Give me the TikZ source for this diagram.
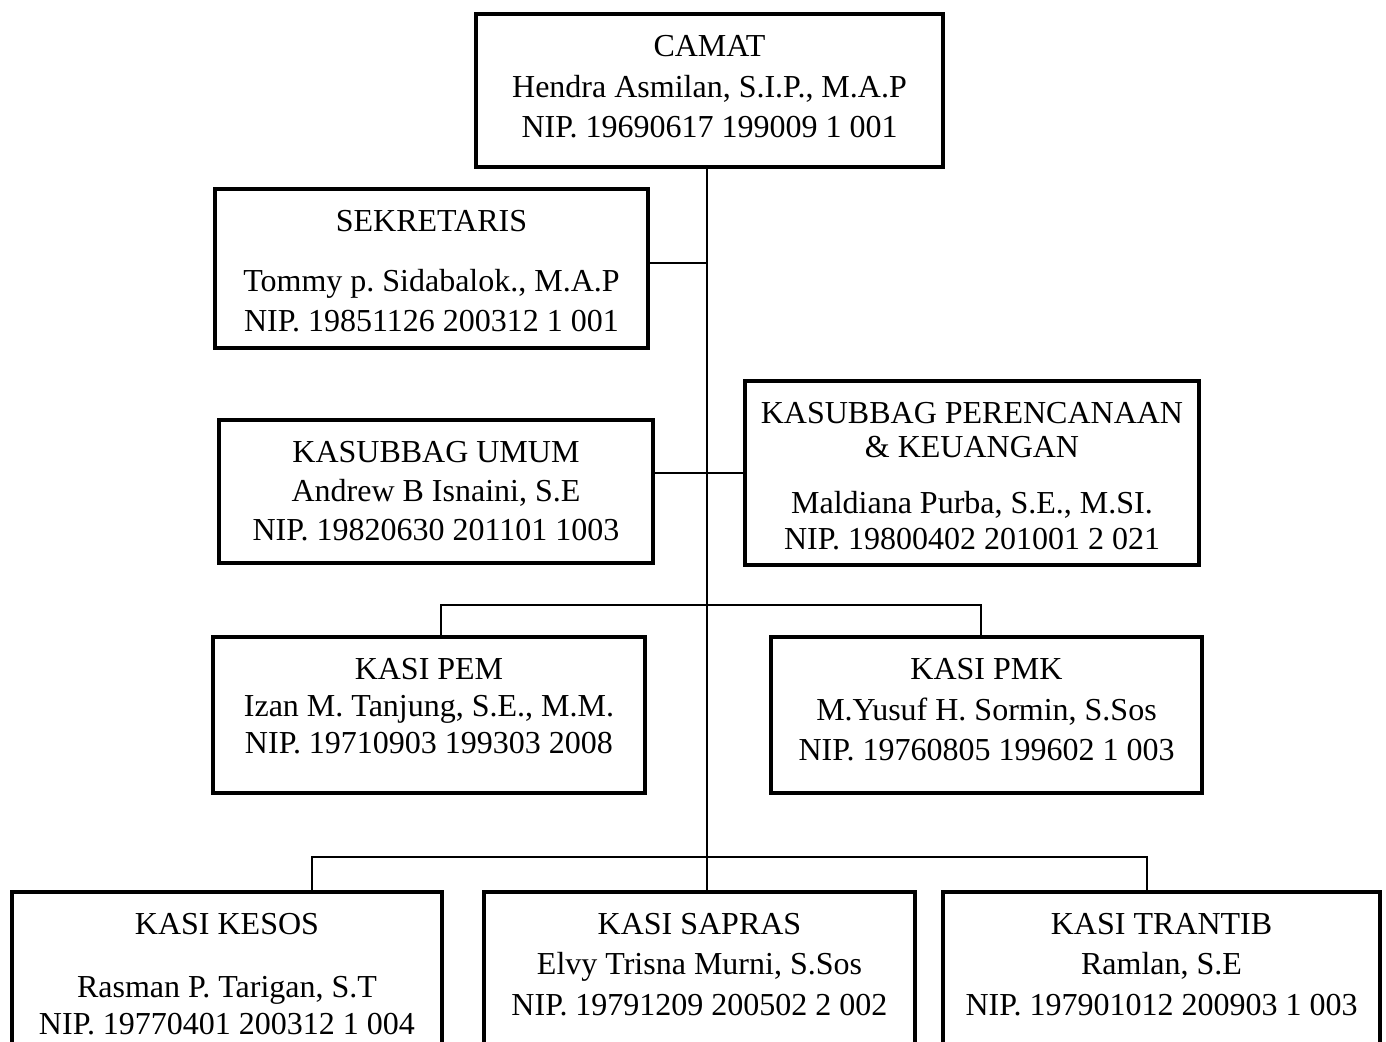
\documentclass[tikz,border=0pt]{standalone}
\usepackage{fontspec}
\setmainfont{Liberation Serif}
\usetikzlibrary{positioning}
\frenchspacing

\begin{document}
\begin{tikzpicture}[x=0.5pt,y=-0.5pt,line width=0.9pt] \tikzstyle{box}=[draw,line width=1.7pt,outer sep=0pt,inner sep=0pt] \tikzstyle{txt}=[align=center,inner sep=0pt,font=\fontsize{16}{19.5}\selectfont]

  \useasboundingbox (0,0) rectangle (1386,1041);

  % boxes
  \node[box,minimum width=233.5pt,minimum height=76.5pt] (camat)   at (709.5,90.5) {};
  \node[box,minimum width=216.5pt,minimum height=79.5pt] (sek)     at (431.5,268.5) {};
  \node[box,minimum width=217pt,minimum height=71.5pt]   (umum)    at (436,491.5) {};
  \node[box,minimum width=227pt,minimum height=92pt]     (ren)     at (972,473) {};
  \node[box,minimum width=216pt,minimum height=78pt]     (pem)     at (429,715) {};
  \node[box,minimum width=215.5pt,minimum height=78pt]   (pmk)     at (986.5,715) {};
  \node[box,minimum width=215pt,minimum height=104pt]    (kesos)   at (227,996) {};
  \node[box,minimum width=215.5pt,minimum height=104pt]  (sapras)  at (699.5,996) {};
  \node[box,minimum width=218.5pt,minimum height=104pt]  (trantib) at (1161.5,996) {};

  % texts
  \node[txt,below=10.25pt of camat.north] (camat-t)
    {CAMAT\\[0.75pt]Hendra Asmilan, S.I.P., M.A.P\\[0.75pt]NIP. 19690617 199009 1 001};
  \node[txt,below=10.25pt of sek.north] (sek-t)
    {SEKRETARIS\\[10.5pt]Tommy p. Sidabalok., M.A.P\\[0.5pt]NIP. 19851126 200312 1 001};
  \node[txt,below=10.25pt of umum.north] (umum-t)
    {KASUBBAG UMUM\\Andrew B Isnaini, S.E\\NIP. 19820630 201101 1003};
  \node[txt,below=10.25pt of ren.north] (ren-t)
    {KASUBBAG PERENCANAAN\\[-2.5pt]\& KEUANGAN\\[8.5pt]Maldiana Purba, S.E., M.SI.\\[-1.5pt]NIP. 19800402 201001 2 021};
  \node[txt,below=10.25pt of pem.north] (pem-t)
    {KASI PEM\\[-1pt]Izan M. Tanjung, S.E., M.M.\\[-1pt]NIP. 19710903 199303 2008};
  \node[txt,below=10.25pt of pmk.north] (pmk-t)
    {KASI PMK\\[1pt]M.Yusuf H. Sormin, S.Sos\\[0.5pt]NIP. 19760805 199602 1 003};
  \node[txt,below=10.25pt of kesos.north] (kesos-t)
    {KASI KESOS\\[12pt]Rasman P. Tarigan, S.T\\[-1pt]NIP. 19770401 200312 1 004};
  \node[txt,below=10.25pt of sapras.north] (sapras-t)
    {KASI SAPRAS\\[0.5pt]Elvy Trisna Murni, S.Sos\\[1pt]NIP. 19791209 200502 2 002};
  \node[txt,below=10.25pt of trantib.north] (trantib-t)
    {KASI TRANTIB\\[0.5pt]Ramlan, S.E\\[1pt]NIP. 197901012 200903 1 003};

  % lines
  \coordinate (bus1) at (707,605);
  \coordinate (bus2) at (707,857);
  \draw (camat.south -| bus1) -- (bus1 |- sapras.north);
  \draw ([yshift=2.75pt]sek.east) -- ([yshift=2.75pt]sek.east -| bus1);
  \draw (umum.east |- ren.west) -- (ren.west);
  \draw ([xshift=6pt]pem.north) |- (bus1) -| ([xshift=-2.75pt]pmk.north);
  \draw ([xshift=42.5pt]kesos.north) |- (bus2) -| ([xshift=-7.25pt]trantib.north);
\end{tikzpicture}
\end{document}
